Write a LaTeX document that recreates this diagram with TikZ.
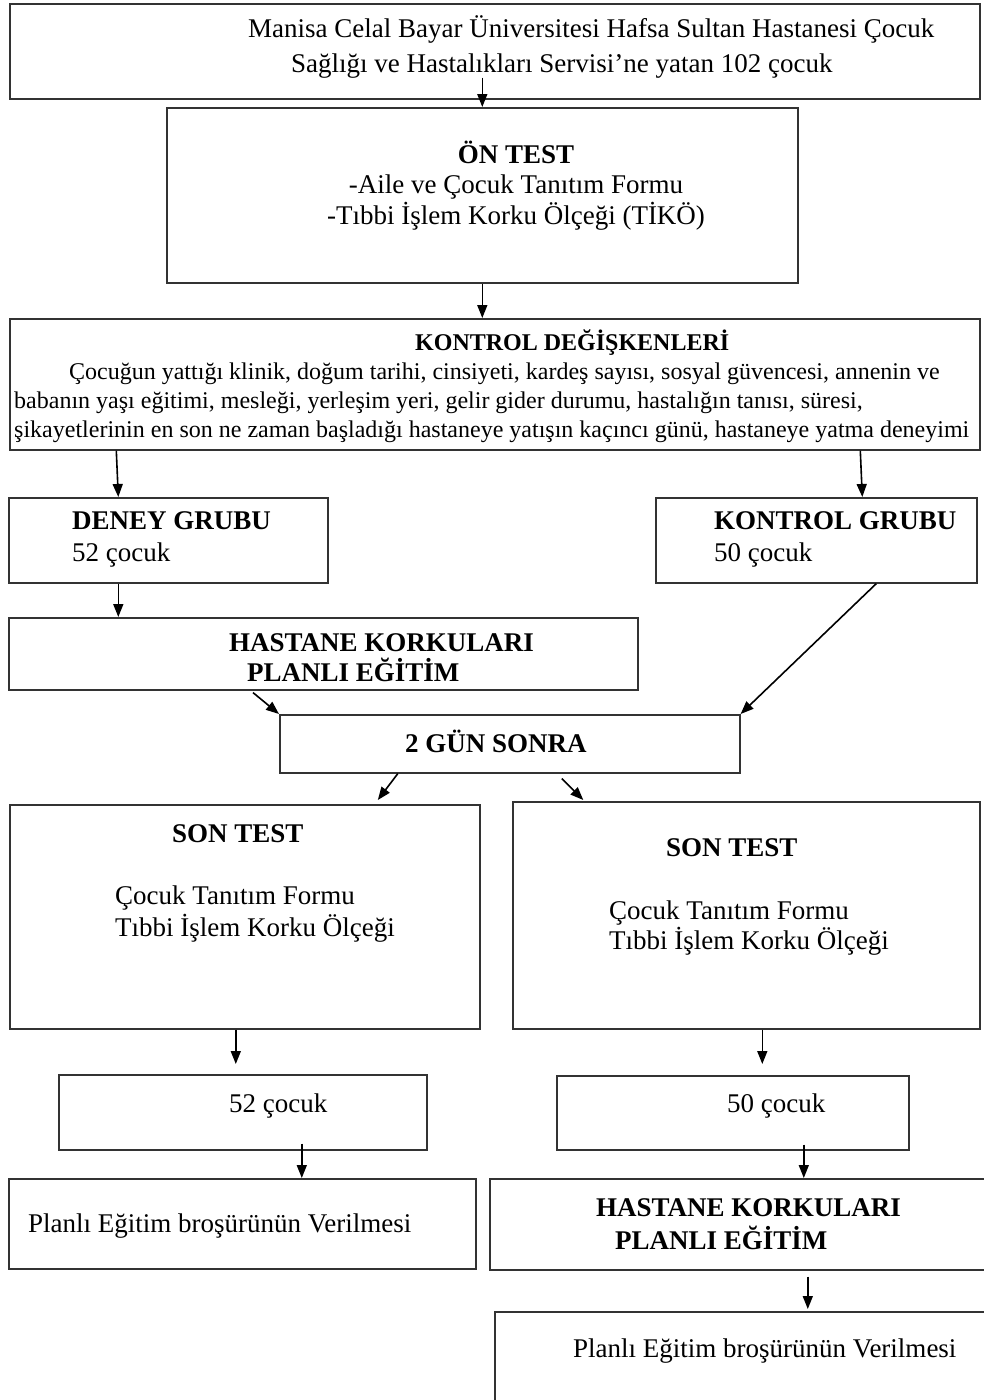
\documentclass[tikz,border=0pt]{standalone}
\usepackage{fontspec}
\setmainfont{Liberation Serif}
\usepackage{tikz}
\usetikzlibrary{arrows.meta, calc}
\tikzstyle{block} = [rectangle, draw=black!80, line width=1.6pt, inner sep=0pt, anchor=north west]
\tikzstyle{txt} = [inner sep=0pt, align=left, anchor=base west, font=\fontsize{27}{31}\selectfont]
\tikzstyle{arrow} = [line width=1.6pt,->,>={Triangle[length=13pt,width=10pt]}]

\begin{document}
\begin{tikzpicture}[x=1pt, y=-1pt]
\useasboundingbox (0,0) rectangle (984,1400);
\clip (0,0) rectangle (984,1400);

% Kutular
\node (top) [block, minimum width=970pt, minimum height=95pt] at (9,3) {};
\node (ontest) [block, minimum width=631pt, minimum height=175pt] at (166,107) {};
\node (kd) [block, minimum width=970pt, minimum height=131pt] at (9,318) {};

\node (deney) [block, minimum width=319pt, minimum height=85pt] at (8,497) {};
\node (kgrup) [block, minimum width=321pt, minimum height=85pt] at (655,497) {};

\node (hastane1) [block, minimum width=629pt, minimum height=72pt] at (8,617) {};
\node (gun2) [block, minimum width=460pt, minimum height=58pt] at (279,714) {};

\node (sontest1) [block, minimum width=470pt, minimum height=224pt] at (9,804) {};
\node (sontest2) [block, minimum width=467pt, minimum height=227pt] at (512,801) {};

\node (cocuk52) [block, minimum width=368pt, minimum height=75pt] at (58,1074) {};
\node (cocuk50) [block, minimum width=352pt, minimum height=74pt] at (556,1075) {};

\node (planli1) [block, minimum width=467pt, minimum height=90pt] at (8,1178) {};
\node (hastane2) [block, minimum width=506pt, minimum height=91pt] at (489,1178) {};
\node (planli2) [block, minimum width=501pt, minimum height=99pt] at (494,1311) {};

% Metinler (son satirin tabani)
\node (toptext) [txt, font=\fontsize{27}{35}\selectfont] at (248,72) {Manisa Celal Bayar Üniversitesi Hafsa Sultan Hastanesi Çocuk\\\hspace*{43pt}Sağlığı ve Hastalıkları Servisi’ne yatan 102 çocuk};
\node (ontesttext) [txt, align=center, anchor=base, font=\fontsize{27}{30.5}\selectfont] at (516,224) {\textbf{ÖN TEST}\\-Aile ve Çocuk Tanıtım Formu\\-Tıbbi İşlem Korku Ölçeği (TİKÖ)};
\node (kdtext) [txt, font=\fontsize{24}{29}\selectfont] at (14,437) {\hspace*{401pt}\textbf{KONTROL DEĞİŞKENLERİ}\\\hspace*{55pt}Çocuğun yattığı klinik, doğum tarihi, cinsiyeti, kardeş sayısı, sosyal güvencesi, annenin ve\\babanın yaşı eğitimi, mesleği, yerleşim yeri, gelir gider durumu, hastalığın tanısı, süresi,\\şikayetlerinin en son ne zaman başladığı hastaneye yatışın kaçıncı günü, hastaneye yatma deneyimi};

\node (deneytext) [txt, font=\fontsize{27}{32}\selectfont] at (72,561) {\textbf{DENEY GRUBU}\\52 çocuk};
\node (kgruptext) [txt, font=\fontsize{27}{32}\selectfont] at (714,561) {\textbf{KONTROL GRUBU}\\50 çocuk};

\node (hastane1text) [txt, font=\fontsize{27}{30}\selectfont] at (229,681) {\textbf{HASTANE KORKULARI}\\\hspace*{18pt}\textbf{PLANLI EĞİTİM}};
\node (gun2text) [txt] at (405,752) {\textbf{2 GÜN SONRA}};

\node (sontest1text) [txt, font=\fontsize{27}{32}\selectfont] at (115,936) {\hspace*{57pt}\textbf{SON TEST}\\[30pt]Çocuk Tanıtım Formu\\Tıbbi İşlem Korku Ölçeği};
\node (sontest2text) [txt, font=\fontsize{27}{30}\selectfont] at (609,949) {\hspace*{57pt}\textbf{SON TEST}\\[33pt]Çocuk Tanıtım Formu\\Tıbbi İşlem Korku Ölçeği};

\node (cocuk52text) [txt] at (229,1112) {52 çocuk};
\node (cocuk50text) [txt] at (727,1112) {50 çocuk};

\node (planli1text) [txt] at (28,1232) {Planlı Eğitim broşürünün Verilmesi};
\node (hastane2text) [txt, font=\fontsize{27}{33}\selectfont] at (596,1249) {\textbf{HASTANE KORKULARI}\\\hspace*{19pt}\textbf{PLANLI EĞİTİM}};
\node (planli2text) [txt] at (573,1357) {Planlı Eğitim broşürünün Verilmesi};

% Oklar
\draw [arrow] ($(top.south -| ontest.north)+(0,-22)$) -- (ontest.north);
\draw [arrow] (ontest.south) -- (ontest.south |- kd.north);

\draw [arrow] ($(kd.south -| deney.north)+(-52,0)$) -- ($(deney.north)+(-50,0)$);
\draw [arrow] ($(kd.south -| kgrup.north)+(44,0)$) -- ($(kgrup.north)+(46,0)$);

\draw [arrow] ($(deney.south)+(-50,0)$) -- ($(deney.south |- hastane1.north)+(-50,0)$);
\draw [arrow] ($(hastane1.south west)+(245,2)$) -- (gun2.north west);
\draw [arrow] ($(kgrup.south)+(60,0)$) -- (gun2.north east);

\draw [arrow] ($(gun2.south)+(-112,0)$) -- ($(sontest1.north)+(133,-4)$);
\draw [arrow] ($(gun2.south)+(52,5)$) -- ($(sontest2.north)+(-163,-1)$);

\draw [arrow] ($(sontest1.south)+(-9,0)$) -- ($(sontest1.south |- cocuk52.north)+(-9,-10)$);
\draw [arrow] ($(sontest2.south)+(16,0)$) -- ($(sontest2.south |- cocuk50.north)+(16,-11)$);

\draw [arrow] ($(cocuk52.south)+(59,-7)$) -- ($(cocuk52.south |- planli1.north)+(59,0)$);
\draw [arrow] ($(cocuk50.south)+(71,-6)$) -- ($(cocuk50.south |- hastane2.north)+(71,0)$);
\draw [arrow] ($(hastane2.south)+(65,6)$) -- ($(hastane2.south |- planli2.north)+(65,-2)$);

\end{tikzpicture}
\end{document}
